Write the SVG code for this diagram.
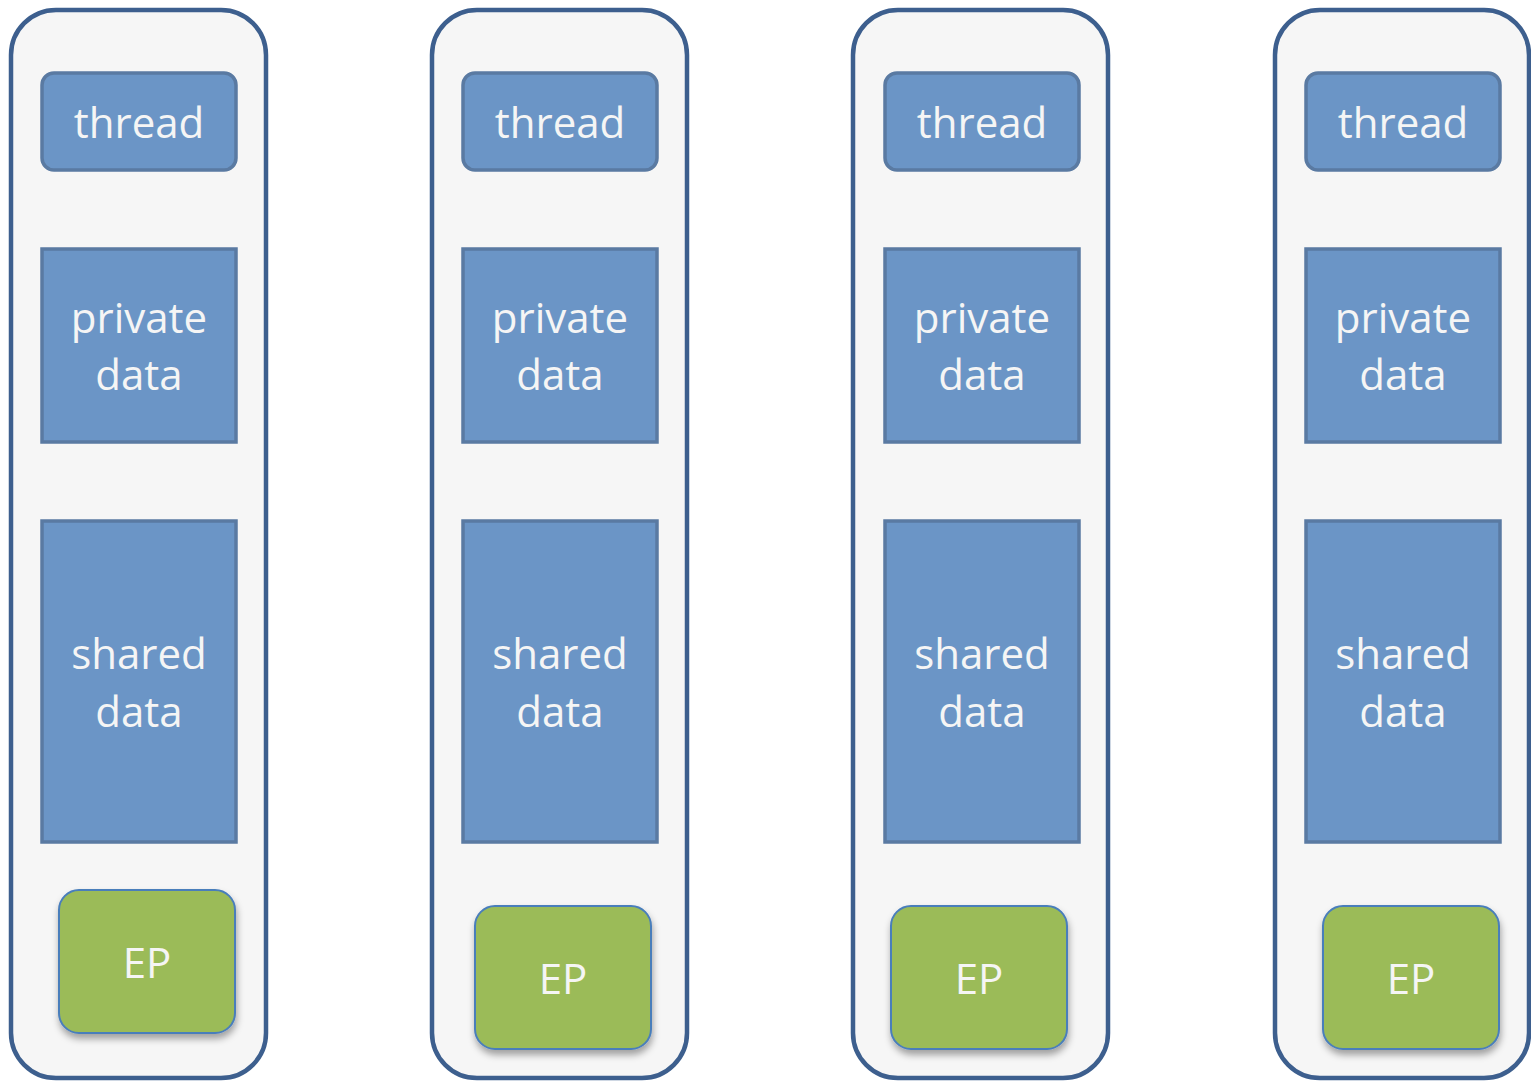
<svg xmlns="http://www.w3.org/2000/svg" width="1531" height="1081" viewBox="0 0 1531 1081">
<defs>
<filter id="sh" x="-20%" y="-20%" width="140%" height="150%">
<feDropShadow dx="1" dy="5" stdDeviation="3.5" flood-color="#000" flood-opacity="0.35"/>
</filter>
</defs>
<style>
.col{fill:#f6f6f6;stroke:#3d5f8e;stroke-width:4.5}
.blue{fill:#6b95c6;stroke:#5a7aa2;stroke-width:3.5}
.ep{fill:#9bbb59;stroke:#4a7ebb;stroke-width:2}
text{font-family:"Open Sans","Noto Sans","DejaVu Sans",sans-serif;font-size:42px;fill:#f5f5f5;text-anchor:middle}
</style>
<rect width="1531" height="1081" fill="#ffffff"/>
<g id="col1">
<rect class="col" x="11" y="10" width="255" height="1068" rx="45"/>
<g id="thread1"><rect class="blue" x="42" y="73" width="194" height="97" rx="12"/><text x="139" y="138">thread</text></g>
<g id="private1"><rect class="blue" x="42" y="249" width="194" height="193"/><text x="139" y="333">private</text><text x="139" y="390">data</text></g>
<g id="shared1"><rect class="blue" x="42" y="521" width="194" height="321"/><text x="139" y="669">shared</text><text x="139" y="727">data</text></g>
<g id="ep1"><rect class="ep" filter="url(#sh)" x="59" y="890" width="176" height="143" rx="20"/><text x="147" y="978">EP</text></g>
</g>
<g id="col2">
<rect class="col" x="432" y="10" width="255" height="1068" rx="45"/>
<g id="thread2"><rect class="blue" x="463" y="73" width="194" height="97" rx="12"/><text x="560" y="138">thread</text></g>
<g id="private2"><rect class="blue" x="463" y="249" width="194" height="193"/><text x="560" y="333">private</text><text x="560" y="390">data</text></g>
<g id="shared2"><rect class="blue" x="463" y="521" width="194" height="321"/><text x="560" y="669">shared</text><text x="560" y="727">data</text></g>
<g id="ep2"><rect class="ep" filter="url(#sh)" x="475" y="906" width="176" height="143" rx="20"/><text x="563" y="994">EP</text></g>
</g>
<g id="col3">
<rect class="col" x="853" y="10" width="255" height="1068" rx="45"/>
<g id="thread3"><rect class="blue" x="885" y="73" width="194" height="97" rx="12"/><text x="982" y="138">thread</text></g>
<g id="private3"><rect class="blue" x="885" y="249" width="194" height="193"/><text x="982" y="333">private</text><text x="982" y="390">data</text></g>
<g id="shared3"><rect class="blue" x="885" y="521" width="194" height="321"/><text x="982" y="669">shared</text><text x="982" y="727">data</text></g>
<g id="ep3"><rect class="ep" filter="url(#sh)" x="891" y="906" width="176" height="143" rx="20"/><text x="979" y="994">EP</text></g>
</g>
<g id="col4">
<rect class="col" x="1275" y="10" width="254" height="1068" rx="45"/>
<g id="thread4"><rect class="blue" x="1306" y="73" width="194" height="97" rx="12"/><text x="1403" y="138">thread</text></g>
<g id="private4"><rect class="blue" x="1306" y="249" width="194" height="193"/><text x="1403" y="333">private</text><text x="1403" y="390">data</text></g>
<g id="shared4"><rect class="blue" x="1306" y="521" width="194" height="321"/><text x="1403" y="669">shared</text><text x="1403" y="727">data</text></g>
<g id="ep4"><rect class="ep" filter="url(#sh)" x="1323" y="906" width="176" height="143" rx="20"/><text x="1411" y="994">EP</text></g>
</g>
<g id="connectors"></g>
</svg>
